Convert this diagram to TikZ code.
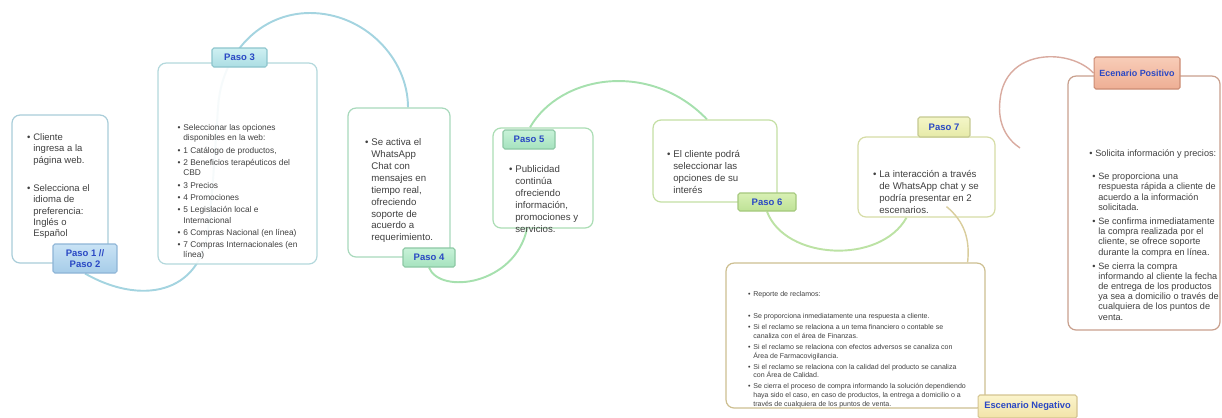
\documentclass[tikz,border=0pt]{standalone}
\usepackage{fontspec}
\setmainfont{Liberation Sans}
\usetikzlibrary{calc}
\pgfdeclarelayer{fondo}
\pgfsetlayers{fondo,main}

\definecolor{gris}{HTML}{404040}
\definecolor{azulT}{HTML}{2A48C4}
% bordes de cajas
\definecolor{bAzul}{HTML}{A9CDD9}
\definecolor{bCian}{HTML}{B3D8DC}
\definecolor{bVerde}{HTML}{A8D9BC}
\definecolor{bVerdeB}{HTML}{ABDDB4}
\definecolor{bLima}{HTML}{C4DFA4}
\definecolor{bOliva}{HTML}{D6DCA6}
\definecolor{bArena}{HTML}{CDBF90}
\definecolor{bSalmon}{HTML}{C9A08E}
% arcos
\definecolor{aAzul}{HTML}{A4D4E0}
\definecolor{aVerde}{HTML}{A6E0AE}
\definecolor{aLima}{HTML}{BCE2A4}
\definecolor{aArena}{HTML}{D9CD9C}
\definecolor{aSalmon}{HTML}{D9ABA0}
% etiquetas
\definecolor{eAzulA}{HTML}{C9E3F5}\definecolor{eAzulB}{HTML}{A6CCE8}\definecolor{eAzulD}{HTML}{8DB4D6}
\definecolor{eCianA}{HTML}{CFF0F2}\definecolor{eCianB}{HTML}{ABDDE3}\definecolor{eCianD}{HTML}{8CC4CC}
\definecolor{eVerA}{HTML}{C8F2D8}\definecolor{eVerB}{HTML}{A5E2BE}\definecolor{eVerD}{HTML}{8CC8A4}
\definecolor{eLimA}{HTML}{D8F0B4}\definecolor{eLimB}{HTML}{BEE296}\definecolor{eLimD}{HTML}{A4C87C}
\definecolor{eOliA}{HTML}{F4F6C8}\definecolor{eOliB}{HTML}{E6EAA8}\definecolor{eOliD}{HTML}{C4C890}
\definecolor{eAreA}{HTML}{FBF4CC}\definecolor{eAreB}{HTML}{F2E4A8}\definecolor{eAreD}{HTML}{D4C490}
\definecolor{eSalA}{HTML}{F8CDB8}\definecolor{eSalB}{HTML}{EEAE94}\definecolor{eSalD}{HTML}{CC8C74}

\newcommand{\itm}{\llap{\textbullet\hspace{1.6pt}}}

\begin{document}
\begin{tikzpicture}[x=0.02cm,y=-0.02cm]
        \tikzstyle{caja}=[rectangle, rounded corners=0.16cm, fill=white,
        fill opacity=0.9, line width=0.7pt, inner sep=0pt]
        \tikzstyle{paso}=[rectangle, rounded corners=1pt, line width=0.6pt,
        inner sep=0pt, align=center, text=azulT,
        font=\fontsize{5.4}{6.3}\selectfont\bfseries]
        \tikzstyle{texto}=[anchor=north west, inner sep=0pt, align=left,
        text=gris, font=\fontsize{5.5}{6.8}\selectfont]
        \tikzstyle{arco}=[line width=1.1pt]

        \useasboundingbox (0,0) rectangle (1222,417);

        %-----cajas
        \foreach \n/\x/\y/\w/\h/\c in {B1/60/189/1.92/2.96/bAzul,
          B2/237.5/163.5/3.18/4.02/bCian, B4/399/182.5/2.04/2.98/bVerde,
          B5/543/178/2.0/2.0/bVerdeB, B6/715/161/2.48/1.64/bLima,
          B7/926.5/177/2.74/1.6/bOliva, NEG/855.5/335.5/5.18/2.9/bArena,
          POS/1144/203/3.04/5.08/bSalmon}
        \node[caja, draw=\c, minimum width=\w cm, minimum height=\h cm] (\n) at (\x,\y) {};

        %-----etiquetas
        \node[paso, top color=eAzulA, bottom color=eAzulB, draw=eAzulD,
          minimum width=1.28cm, minimum height=0.58cm] (P12) at (85,258.5) {Paso 1 //\\Paso 2};
        \node[paso, top color=eCianA, bottom color=eCianB, draw=eCianD,
          minimum width=1.1cm, minimum height=0.38cm] (P3) at (239.5,57.5) {Paso 3};
        \node[paso, top color=eVerA, bottom color=eVerB, draw=eVerD,
          minimum width=1.04cm, minimum height=0.38cm] (P4) at (429,257.5) {Paso 4};
        \node[paso, top color=eVerA, bottom color=eVerB, draw=eVerD,
          minimum width=1.04cm, minimum height=0.38cm] (P5) at (529,139.5) {Paso 5};
        \node[paso, top color=eLimA, bottom color=eLimB, draw=eLimD,
          minimum width=1.16cm, minimum height=0.36cm] (P6) at (767,202) {Paso 6};
        \node[paso, top color=eOliA, bottom color=eOliB, draw=eOliD,
          minimum width=1.04cm, minimum height=0.4cm] (P7) at (944,127) {Paso 7};
        \node[paso, top color=eAreA, bottom color=eAreB, draw=eAreD,
          minimum width=1.98cm, minimum height=0.46cm, font=\fontsize{5.3}{6.3}\selectfont\bfseries]
          (ENEG) at (1027.5,406.5) {Escenario Negativo};
        \node[paso, top color=eSalA, bottom color=eSalB, draw=eSalD,
          minimum width=1.72cm, minimum height=0.64cm, font=\fontsize{5.1}{6.1}\selectfont\bfseries]
          (EPOS) at (1137,73) {Ecenario Positivo};

        %-----textos
        \node[texto, font=\fontsize{5.4}{6.5}\selectfont] (T1) at (33,133)
          {\itm Cliente\\ingresa a la\\página web.\\[9.5pt]\itm Selecciona el\\idioma de\\preferencia:\\Inglés o\\Español};
        \node[texto, font=\fontsize{4.75}{5.9}\selectfont] (T2) at (183,124)
          {\itm Seleccionar las opciones\\disponibles en la web:\\[1.1pt]\itm 1 Catálogo de productos,\\[1.1pt]%
           \itm 2 Beneficios terapéuticos del\\CBD\\[1.1pt]\itm 3 Precios\\[1.1pt]\itm 4 Promociones\\[1.1pt]%
           \itm 5 Legislación local e\\Internacional\\[1.1pt]\itm 6 Compras Nacional (en línea)\\[1.1pt]%
           \itm 7 Compras Internacionales (en\\línea)};
        \node[texto] (T4) at (371,138)
          {\itm Se activa el\\WhatsApp\\Chat con\\mensajes en\\tiempo real,\\ofreciendo\\soporte de\\acuerdo a\\requerimiento.};
        \node[texto] (T5) at (515,165)
          {\itm Publicidad\\continúa\\ofreciendo\\información,\\promociones y\\servicios.};
        \node[texto] (T6) at (673,150)
          {\itm El cliente podrá\\seleccionar las\\opciones de su\\interés};
        \node[texto] (T7) at (879,170)
          {\itm La interacción a través\\de WhatsApp chat y se\\podría presentar en 2\\escenarios.};
        \node[texto, font=\fontsize{4}{5.1}\selectfont] (TNEG) at (753,291)
          {\itm Reporte de reclamos:\\[7.4pt]\itm Se proporciona inmediatamente una respuesta a cliente.\\[1.1pt]%
           \itm Si el reclamo se relaciona a un tema financiero o contable se\\canaliza con el área de Finanzas.\\[1.1pt]%
           \itm Si el reclamo se relaciona con efectos adversos se canaliza con\\Área de Farmacovigilancia.\\[1.1pt]%
           \itm Si el reclamo se relaciona con la calidad del producto se canaliza\\con Área de Calidad.\\[1.1pt]%
           \itm Se cierra el proceso de compra informando la solución dependiendo\\haya sido el caso, en caso de productos, la entrega a domicilio o a\\través de cualquiera de los puntos de venta.};
        \node[texto, font=\fontsize{5.2}{5.7}\selectfont] (TPOS) at (1095,149)
          {\itm Solicita información y precios:};
        \node[texto, font=\fontsize{5.2}{5.7}\selectfont] (TPOS2) at (1098,173)
          {\itm Se proporciona una\\respuesta rápida a cliente de\\acuerdo a la información\\solicitada.\\[2.8pt]%
           \itm Se confirma inmediatamente\\la compra realizada por el\\cliente, se ofrece soporte\\durante la compra en línea.\\[2.8pt]%
           \itm Se cierra la compra\\informando al cliente la fecha\\de entrega de los productos\\ya sea a domicilio o través de\\cualquiera de los puntos de\\venta.};

        \coordinate (AE) at (1020,148);

        %-----arcos
        \begin{pgfonlayer}{fondo}
         \draw[arco, draw=aAzul] (P12.south) .. controls (140,305) and (200,295) .. (208,230)
           .. controls (213,190) and (215,150) .. (218,108)
           .. controls (221,54) and (260,13) .. (310,13)
           .. controls (364,13) and (408,58) .. ($(B4.north)+(9,0)$);
         \draw[arco, draw=aVerde] (P4.south) .. controls (440,295) and (515,285) .. ($(B5.south)+(-16,0)$);
         \draw[arco, draw=aVerde] ($(B5.north)+(-13,0)$) .. controls (560,75) and (650,60) .. ($(B6.north)+(-8,0)$);
         \draw[arco, draw=aLima] (P6.south) .. controls (785,260) and (880,265) .. ($(B7.south)+(-20,0)$);
         \draw[arco, draw=aSalmon, line width=0.8pt] (EPOS.west) .. controls (1070,48) and (1005,48) .. (1000,100)
           .. controls (997,125) and (1008,140) .. (AE);
        \end{pgfonlayer}
         \draw[arco, draw=aArena, line width=0.8pt] ($(B7.south)+(20,-11)$) .. controls (965,222) and (970,240) .. ($(NEG.north east)+(-18,0)$);

    % flujo de atencion al cliente
        \end{tikzpicture}
\end{document}
